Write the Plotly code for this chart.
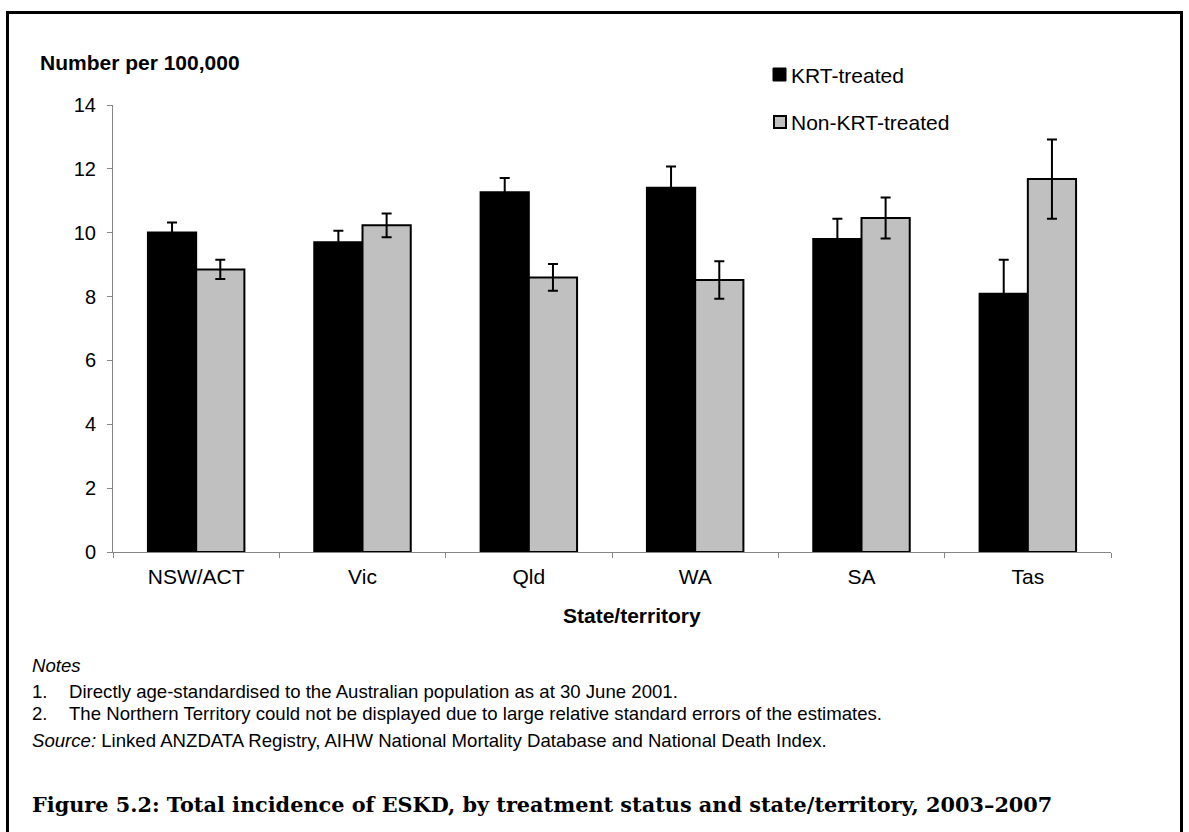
import plotly.graph_objects as go

categories = ["NSW/ACT", "Vic", "Qld", "WA", "SA", "Tas"]
krt_values = [10.01, 9.70, 11.27, 11.41, 9.80, 8.09]
krt_errors = [0.31, 0.36, 0.44, 0.66, 0.64, 1.06]
non_values = [8.85, 10.23, 8.60, 8.52, 10.46, 11.68]
non_errors = [0.30, 0.37, 0.42, 0.59, 0.64, 1.24]
y_ticks = [0, 2, 4, 6, 8, 10, 12, 14]

W, H = 1189, 832
L, R, T, B = 113, 1111, 105, 552


def px(x):
    return (x - L) / (R - L)


def py(y):
    return (B - y) / (B - T)


fig = go.Figure()
fig.add_trace(go.Bar(
    name="KRT-treated", x=categories, y=krt_values,
    marker=dict(color="#000000", line=dict(color="#000000", width=2)),
    error_y=dict(type="data", array=krt_errors, color="#000000", thickness=2, width=5),
    showlegend=False,
))
fig.add_trace(go.Bar(
    name="Non-KRT-treated", x=categories, y=non_values,
    marker=dict(color="#c0c0c0", line=dict(color="#000000", width=2)),
    error_y=dict(type="data", array=non_errors, color="#000000", thickness=2, width=5),
    showlegend=False,
))

axis_col = "#868686"
fig.update_layout(
    width=W, height=H,
    margin=dict(l=L, r=W - R, t=T, b=H - B, pad=0),
    paper_bgcolor="white", plot_bgcolor="white",
    barmode="group", bargap=0.42, bargroupgap=0,
    font=dict(family="Liberation Sans, Arial, sans-serif", color="#000000"),
    xaxis=dict(
        type="category", showline=True, linecolor=axis_col, linewidth=1,
        ticks="outside", tickson="boundaries", ticklen=5, tickcolor=axis_col,
        tickfont=dict(size=21), showgrid=False, zeroline=False,
        ticklabelstandoff=6,
    ),
    yaxis=dict(
        range=[0, 14], tickvals=y_ticks, showline=True, linecolor=axis_col,
        linewidth=1, ticks="outside", ticklen=5, tickcolor=axis_col,
        tickfont=dict(size=20), showgrid=False, zeroline=False,
        ticklabelstandoff=7,
    ),
)

ann = []


def text(x, y, s, size=16, xanchor="left", **kw):
    ann.append(dict(x=px(x), y=py(y), xref="paper", yref="paper", text=s,
                    showarrow=False, xanchor=xanchor, yanchor="middle",
                    font=dict(size=size, **kw)))


NS = 18.6
text(38, 62, "<b>Number per 100,000</b>", size=21)
text(632, 615, "<b>State/territory</b>", size=21, xanchor="center")
text(789, 75, "KRT-treated", size=21)
text(789, 122, "Non-KRT-treated", size=21)
text(30, 665, "<i>Notes</i>", size=NS)
text(30, 691, "1.", size=NS)
text(67, 691, "Directly age-standardised to the Australian population as at 30 June 2001.", size=NS)
text(30, 713, "2.", size=NS)
text(67, 713, "The Northern Territory could not be displayed due to large relative standard errors of the estimates.", size=NS)
text(30, 740, "<i>Source:</i> Linked ANZDATA Registry, AIHW National Mortality Database and National Death Index.", size=NS)
text(30, 804, "<b>Figure 5.2: Total incidence of ESKD, by treatment status and state/territory, 2003–2007</b>",
     size=20.8, family="DejaVu Serif, serif")
fig.update_layout(annotations=ann)

shapes = [
    # legend swatches
    dict(type="rect", xref="paper", yref="paper", x0=px(773), x1=px(786), y0=py(81), y1=py(68),
         fillcolor="#000000", line=dict(color="#000000", width=1)),
    dict(type="rect", xref="paper", yref="paper", x0=px(774), x1=px(786), y0=py(128), y1=py(116),
         fillcolor="#c0c0c0", line=dict(color="#000000", width=2)),
    # outer frame (open at bottom)
    dict(type="line", xref="paper", yref="paper", x0=px(7.5), x1=px(7.5), y0=py(12), y1=py(840),
         line=dict(color="#000000", width=3)),
    dict(type="line", xref="paper", yref="paper", x0=px(1181.5), x1=px(1181.5), y0=py(12), y1=py(840),
         line=dict(color="#000000", width=3)),
    dict(type="line", xref="paper", yref="paper", x0=px(6), x1=px(1183), y0=py(12.5), y1=py(12.5),
         line=dict(color="#000000", width=3)),
]
fig.update_layout(shapes=shapes)

fig.write_html(
    "out.html",
    config={"displayModeBar": False},
    post_script="document.body.style.margin='0';document.body.style.overflow='hidden';",
)
